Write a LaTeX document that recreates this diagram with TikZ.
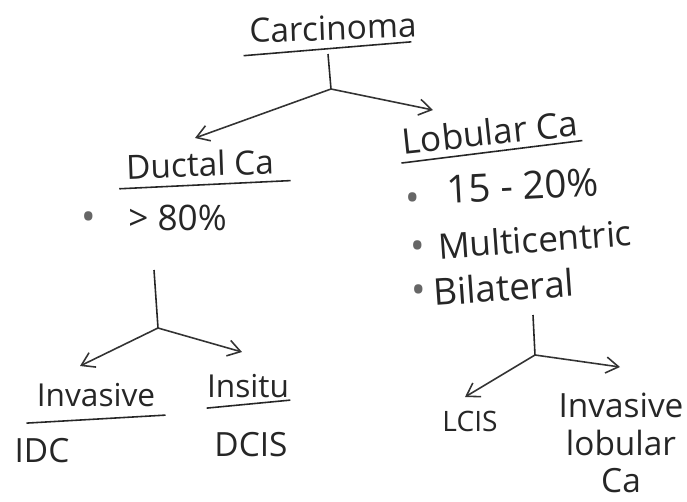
\documentclass[tikz,border=0pt]{standalone}
\usepackage{fontspec}
\setmainfont{Open Sans}
\usetikzlibrary{arrows.meta}
\tikzset{%
	>={Straight Barb[length=2.5mm,width=3.2mm]},
	% Specifications for style of nodes:
	base/.style = {inner sep=0pt, text=black!85},
	title/.style = {base, font=\fontsize{18}{21}\selectfont},
	item/.style = {base, anchor=west, font=\fontsize{20}{24}\selectfont},
	leaf/.style = {base, align=center, font=\fontsize{19}{23}\selectfont},
	dot/.style = {base, text=black!60, font=\fontsize{22}{24}\selectfont},
	uline/.style = {black!85, line width=0.9pt},
	branch/.style = {->, black!80, line width=0.9pt},
}

\begin{document}
\begin{tikzpicture}[x=0.02cm, y=-0.02cm]
	\useasboundingbox (0,0) rectangle (687,501);
	% Specification of nodes (position, etc.)
	\node (carcinoma) [title, font=\fontsize{19}{22}\selectfont, rotate=2] at (333,28) {Carcinoma};
	\node (ductal)    [title, font=\fontsize{19}{22}\selectfont, rotate=2] at (200,164) {Ductal Ca};
	\node (lobular)   [title, font=\fontsize{20}{24}\selectfont, rotate=6] at (490,132) {Lobular Ca};
	\node (b80)       [dot]   at (89,221)  {\textbullet};
	\node (pct80)     [item]  at (128,218) {> 80\%};
	\node (b15)       [dot]   at (413,202) {\textbullet};
	\node (pct15)     [item, rotate=3, font=\fontsize{22}{24}\selectfont] at (446,190) {15 - 20\%};
	\node (bmulti)    [dot]   at (418,250) {\textbullet};
	\node (multi)     [item, rotate=4] at (438,246) {Multicentric};
	\node (bbilat)    [dot]   at (419,294) {\textbullet};
	\node (bilat)     [item, rotate=4, font=\fontsize{21}{25}\selectfont] at (433,292) {Bilateral};
	\node (invasive)  [title] at (96,395)  {Invasive};
	\node (insitu)    [title] at (248,386) {Insitu};
	\node (idc)       [leaf]  at (42,451)  {IDC};
	\node (dcis)      [leaf]  at (251,445) {DCIS};
	\node (lcis)      [leaf, font=\fontsize{16}{19}\selectfont] at (470,421) {LCIS};
	\node (ilc)       [leaf, font=\fontsize{19}{21.5}\selectfont] at (621,443) {Invasive\\lobular\\Ca};
	% underlines
	\draw[uline] ([shift={(-6,12)}]carcinoma.south west) -- ([shift={(-6,4)}]carcinoma.south east);
	\draw[uline] ([shift={(-7,9)}]ductal.south west) -- ([shift={(16,6)}]ductal.south east);
	\draw[uline] ([shift={(-2,8)}]lobular.south west) -- ([shift={(3,4)}]lobular.south east);
	\draw[uline] ([shift={(-10,16)}]invasive.south west) -- ([shift={(10,8)}]invasive.south east);
	\draw[uline] ([shift={(0,10)}]insitu.south west) -- ([shift={(1,2)}]insitu.south east);
	% junctions and arrow tips
	\coordinate (s1) at (328,54);
	\coordinate (j1) at (331,89);
	\coordinate (s2) at (154,270);
	\coordinate (j2) at (158,328);
	\coordinate (s3) at (533,315);
	\coordinate (j3) at (535,355);
	\coordinate (toDuctal)   at (195,138);
	\coordinate (toLobular)  at (433,110);
	\coordinate (toInvasive) at (80,366);
	\coordinate (toInsitu)   at (242,352);
	\coordinate (toLcis)     at (465,397);
	\coordinate (toIlc)      at (620,367);
	% connectors
	\draw[uline]  (s1) -- (j1);
	\draw[branch] (j1) -- (toDuctal);
	\draw[branch] (j1) -- (toLobular);
	\draw[uline]  (s2) -- (j2);
	\draw[branch] (j2) -- (toInvasive);
	\draw[branch] (j2) -- (toInsitu);
	\draw[uline]  (s3) -- (j3);
	\draw[branch] (j3) -- (toLcis);
	\draw[branch] (j3) -- (toIlc);
\end{tikzpicture}
\end{document}
